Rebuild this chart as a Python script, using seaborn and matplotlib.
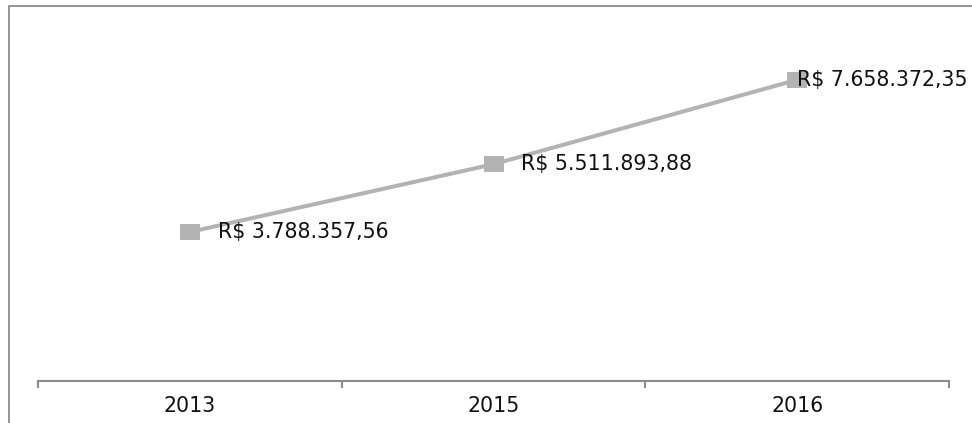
import matplotlib
matplotlib.use("Agg")
import matplotlib.pyplot as plt
import seaborn as sns
import pandas as pd
from matplotlib.lines import Line2D

years = ["2013", "2015", "2016"]
values = [3788357.56, 5511893.88, 7658372.35]
labels = ["R$ 3.788.357,56", "R$ 5.511.893,88", "R$ 7.658.372,35"]

sns.set_theme(style="white")
plt.rcParams['font.family'] = ['DejaVu Sans']

W, H = 972, 423
fig = plt.figure(figsize=(W / 100, H / 100), dpi=100)

# outer chart frame (top and left edges visible, rest cropped)
fig.lines.append(Line2D([8.5 / W, 8.5 / W, 1.0], [0.0, (H - 6.5) / H, (H - 6.5) / H],
                        transform=fig.transFigure, color="#8c8c8c", linewidth=1.3))

ax = fig.add_axes([38 / W, (H - 381) / H, (949 - 38) / W, (381 - 27) / H])
df = pd.DataFrame({"year": years, "value": values})
x = list(range(len(years)))
rect_marker = [(-1, -0.75), (1, -0.75), (1, 0.75), (-1, 0.75), (-1, -0.75)]
sns.lineplot(x=x, y=df["value"], ax=ax, color="#b3b3b3", linewidth=2.9,
             marker=rect_marker, markersize=15, markeredgewidth=0,
             markerfacecolor="#b3b3b3")

offsets = [(20, 0), (20, 0), (0, 0)]
for xi, v, lab, off in zip(x, values, labels, offsets):
    ax.annotate(lab, (xi, v), xytext=off, textcoords="offset points",
                ha="left", va="center", fontsize=14.8, color="#111111")

ax.set_xlim(-0.5, 2.5)
ax.set_ylim(0, 9000000)
ax.set_xticks([-0.5, 0.5, 1.5, 2.5], minor=False)
ax.set_xticklabels([])
ax.set_xticks(x, minor=True)
ax.set_xticklabels(years, minor=True, fontsize=14.8, color="#111111")
ax.tick_params(axis="x", which="major", direction="out", length=5,
               width=1.5, color="#8c8c8c", bottom=True)
ax.tick_params(axis="x", which="minor", length=0, pad=10.5)
ax.set_yticks([])
ax.set_xlabel("")
ax.set_ylabel("")
for s in ["top", "right", "left"]:
    ax.spines[s].set_visible(False)
ax.spines["bottom"].set_color("#8c8c8c")
ax.spines["bottom"].set_linewidth(1.5)
ax.patch.set_alpha(0)

fig.savefig("out.png", dpi=100)
